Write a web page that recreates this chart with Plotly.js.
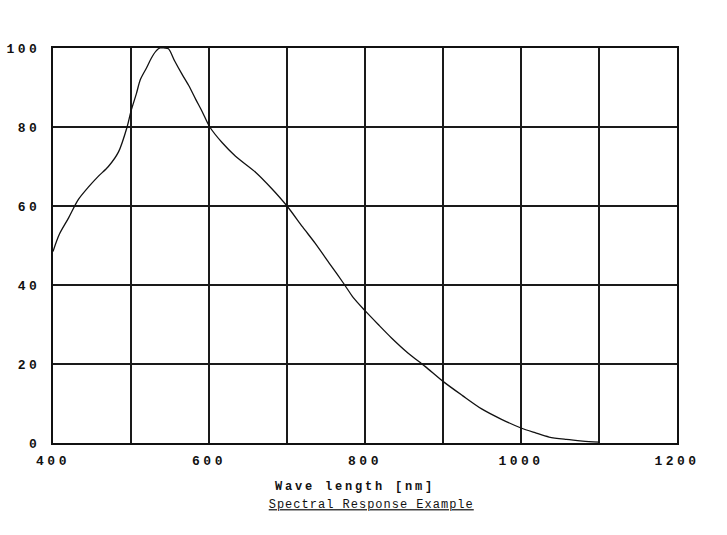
<!DOCTYPE html>
<html>
<head>
<meta charset="utf-8">
<script src="https://cdn.plot.ly/plotly-3.0.1.min.js"></script>
<style>
  html, body { margin: 0; padding: 0; background: #fff; }
  #chart { width: 727px; height: 535px; }
  .xtick text, .ytick text { letter-spacing: 3.5px; }
  .xtitle { letter-spacing: 2.8px; transform: translate(-10px, 0px); }
  .gtitle { letter-spacing: 1px; }
</style>
</head>
<body>
<div id="chart"></div>
<script>
// Wavelength (nm) and relative response (%)
const wavelength = [400,408,420,432,445,458,471,484,495,500,507,512,520,526,532,537,543,548,556,565,574,583,591,601,617,634,660,680,700,720,736,755,774,785,800,817,834,855,877,900,925,949,975,1000,1018,1036,1058,1079,1100];
const response   = [48.5,52.8,57,61.5,64.7,67.5,70,73.7,80,84,88.5,92,95,97.4,99.2,100,100,99.8,96.7,93.5,90.5,87,84,80,76,72.6,68.5,64.5,60,54.7,50.6,45.3,40,36.8,33.5,30,26.6,22.8,19.4,15.6,12,8.7,6,3.8,2.6,1.5,0.9,0.5,0.2];

const xTickVals = [400,500,600,700,800,900,1000,1100,1200];
const xTickText = ['400','','600','','800','','1000','','1200'];
const yTickVals = [0,20,40,60,80,100];
const yTickText = ['0','20','40','60','80','100'];

const trace = {
  x: wavelength,
  y: response,
  type: 'scatter',
  mode: 'lines',
  line: { color: '#111', width: 1.3, shape: 'spline', smoothing: 0.8 },
  hoverinfo: 'skip',
  showlegend: false
};

const tickFont = { family: 'Liberation Mono, monospace', size: 13, weight: 'bold', color: '#111' };

const layout = {
  width: 727,
  height: 535,
  margin: { l: 53, r: 50, t: 48, b: 92 },
  paper_bgcolor: '#fff',
  plot_bgcolor: '#fff',
  font: { family: 'Liberation Mono, monospace', color: '#111', size: 12 },
  title: {
    text: 'Spectral Response Example',
    font: { family: 'Liberation Mono, monospace', size: 12, color: '#111', lineposition: 'under' },
    x: 0.51, xref: 'paper', xanchor: 'center',
    y: 1 - 504/535, yref: 'container', yanchor: 'middle'
  },
  xaxis: {
    range: [400, 1200],
    tickvals: xTickVals,
    ticktext: xTickText,
    tickfont: tickFont,
    ticks: '',
    ticklabelstandoff: 4,
    showgrid: true,
    gridcolor: '#1a1a1a',
    gridwidth: 2,
    showline: true, mirror: true, linecolor: '#111', linewidth: 2,
    zeroline: false,
    title: {
      text: 'Wave length [nm]',
      font: { family: 'Liberation Mono, monospace', size: 12, weight: 'bold', color: '#111' },
      standoff: 14
    }
  },
  yaxis: {
    range: [0, 100],
    tickvals: yTickVals,
    ticktext: yTickText,
    tickfont: tickFont,
    ticks: '',
    ticklabelstandoff: 8,
    showgrid: true,
    gridcolor: '#1a1a1a',
    gridwidth: 2,
    showline: true, mirror: true, linecolor: '#111', linewidth: 2,
    zeroline: false
  }
};

Plotly.newPlot('chart', [trace], layout, { staticPlot: true, displayModeBar: false });
</script>
</body>
</html>
